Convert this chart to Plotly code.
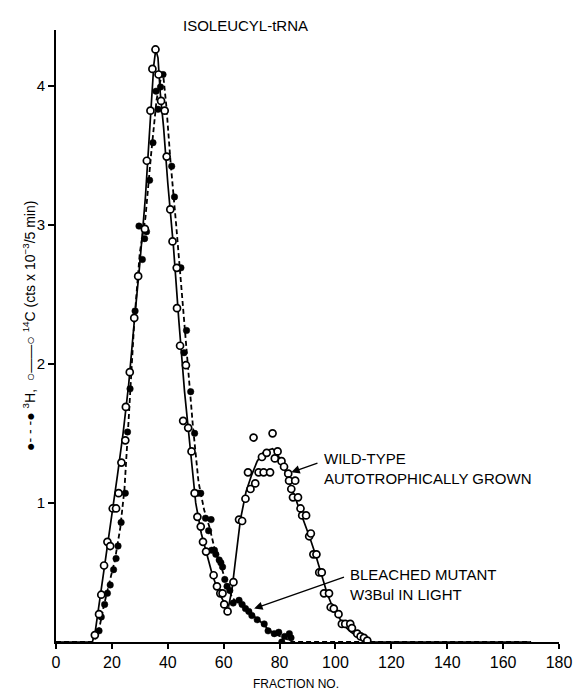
import plotly.graph_objects as go

# ---- 14C (open circles, wild-type autotrophically grown) ----
c14_x = [13.9, 15.4, 16.2, 17.2, 18.4, 19.4, 20.3, 21.5, 22.4, 23.4, 24.8, 25.0, 26.4, 28.0, 29.4,
         31.8, 32.5, 33.8, 34.5, 35.6, 36.7, 37.6, 38.9, 39.6, 40.9, 41.7, 43.2, 43.3, 44.4, 45.5,
         46.5, 47.3, 48.5, 49.6, 50.6, 51.8, 52.6, 53.7, 56.4, 57.6, 58.8, 59.6, 60.2, 61.4,
         63.5, 65.5, 66.6, 67.8, 68.7, 69.6, 70.7, 71.3, 72.5, 73.7, 74.3, 75.4, 76.6, 77.5, 78.3,
         79.3, 80.7, 81.6, 83.1, 83.4, 84.2, 84.8, 85.6, 86.6, 87.5, 88.1, 89.5, 90.6, 91.2, 92.1,
         93.2, 94.2, 95.1, 95.9, 97.7, 98.3, 99.4, 101.1, 102.3, 103.5, 105.3, 105.9, 107.8, 109.0,
         110.2, 111.4]
c14_y = [0.05, 0.20, 0.34, 0.55, 0.72, 0.69, 0.96, 0.96, 1.07, 1.29, 1.45, 1.69, 1.94, 2.33, 2.63,
         2.97, 3.46, 3.82, 4.12, 4.26, 4.08, 3.89, 3.82, 3.49, 3.11, 2.88, 2.69, 2.40, 2.13, 1.59,
         1.99, 1.54, 1.37, 1.07, 0.90, 0.83, 0.72, 0.65, 0.48, 0.40, 0.35, 0.35, 0.27, 0.22,
         0.43, 0.88, 0.87, 1.03, 1.22, 1.10, 1.47, 1.14, 1.22, 1.33, 1.22, 1.36, 1.22, 1.50, 1.32,
         1.37, 1.30, 1.26, 1.21, 1.16, 1.10, 1.04, 1.16, 1.04, 0.96, 0.91, 0.91, 0.76, 0.78, 0.63,
         0.63, 0.50, 0.50, 0.35, 0.35, 0.25, 0.24, 0.20, 0.13, 0.13, 0.13, 0.10, 0.06, 0.04,
         0.03, 0.01]

# hand-drawn solid curve through the 14C points
c14_curve_x = [0, 13, 14, 16, 18, 20, 22, 24, 26, 28, 30, 32, 33, 34, 35, 35.7, 36.5, 37.3, 38.5,
               40, 42, 44, 46, 48, 50, 52, 54, 56, 58, 60, 61.8, 63, 64, 66, 68, 70, 72, 74, 76,
               77.5, 79, 81, 83, 85, 87, 89, 91, 93, 95, 97, 99, 101, 103, 105, 107, 109, 111,
               112, 170]
c14_curve_y = [0, 0, 0.07, 0.35, 0.62, 0.9, 1.2, 1.5, 1.85, 2.3, 2.72, 3.2, 3.5, 3.85, 4.15, 4.26,
               4.2, 3.95, 3.7, 3.3, 2.85, 2.3, 1.8, 1.4, 1.0, 0.78, 0.62, 0.48, 0.37, 0.29, 0.26,
               0.38, 0.55, 0.88, 1.08, 1.2, 1.3, 1.36, 1.38, 1.39, 1.36, 1.28, 1.18, 1.07, 0.96,
               0.86, 0.74, 0.62, 0.48, 0.35, 0.25, 0.18, 0.12, 0.08, 0.05, 0.03, 0.01, 0, 0]

# ---- 3H (filled circles, bleached mutant W3BuI in light) ----
h3_x = [15.4, 16.2, 17.4, 18.4, 19.4, 20.6, 21.5, 22.2, 23.3, 24.8, 25.6, 26.5, 28.3, 29.7, 30.9,
        31.7, 32.4, 33.5, 34.7, 35.8, 36.5, 37.4, 38.3, 41.4, 42.4, 44.7, 45.8, 46.7, 48.2, 49.6,
        50.8, 51.8, 53.5, 54.6, 55.5, 55.7, 56.7, 57.2, 58.4, 59.0, 59.6, 60.4, 61.2, 62.2, 63.4,
        65.5, 66.6, 67.8, 69.0, 70.1, 72.0, 74.5, 75.9, 78.1, 79.7, 80.8, 81.8, 83.5, 84.1]
h3_y = [0.08, 0.18, 0.27, 0.35, 0.41, 0.52, 0.60, 0.69, 0.86, 1.07, 1.51, 1.82, 2.38, 2.99, 2.75,
        2.90, 2.95, 3.32, 3.59, 3.96, 3.83, 3.99, 4.08, 3.42, 3.20, 2.69, 2.08, 2.24, 1.80, 1.50,
        1.07, 1.07, 0.89, 0.80, 0.88, 0.66, 0.66, 0.63, 0.59, 0.57, 0.54, 0.45, 0.40, 0.37, 0.28,
        0.30, 0.27, 0.24, 0.22, 0.19, 0.16, 0.13, 0.08, 0.06, 0.07, 0.00, 0.04, 0.06, 0.03]

# hand-drawn dashed curve through the 3H points
h3_curve_x = [0, 13, 15, 17, 19, 21, 23, 24.5, 26, 28, 30, 32, 34, 36, 37.5, 38.5, 39.5, 41, 43,
              45, 47, 49, 51, 53, 55, 57, 59, 61, 63, 65, 67, 70, 73, 76, 79, 82, 84, 170]
h3_curve_y = [0, 0, 0.05, 0.25, 0.42, 0.58, 0.82, 1.1, 1.6, 2.3, 2.8, 3.05, 3.5, 3.9, 4.05, 4.05,
              3.85, 3.45, 3.0, 2.5, 2.0, 1.55, 1.15, 0.95, 0.82, 0.65, 0.55, 0.42, 0.32, 0.28,
              0.25, 0.2, 0.15, 0.09, 0.05, 0.03, 0, 0]

x_ticks = [0, 20, 40, 60, 80, 100, 120, 140, 160, 180]
y_ticks = [1, 2, 3, 4]

FONT = "Liberation Sans, Arial, Helvetica, sans-serif"

# page has an 8px body margin; plot area in page pixels: x 55.5..567.5, y 30..642
OFF = 8
PL, PR, PT, PB = 55.5, 567.5, 30.0, 642.0
W, H = 584 - OFF, 692 - OFF


def px(xp):
    return (xp - PL) / (PR - PL)


def py(yp):
    return (PB - yp) / (PB - PT)


fig = go.Figure()
fig.add_trace(go.Scatter(x=h3_curve_x, y=h3_curve_y, mode="lines",
                         line=dict(color="black", width=1.8, dash="5px,3px"), hoverinfo="skip"))
fig.add_trace(go.Scatter(x=c14_curve_x, y=c14_curve_y, mode="lines",
                         line=dict(color="black", width=1.7), hoverinfo="skip"))
fig.add_trace(go.Scatter(x=h3_x, y=h3_y, mode="markers",
                         marker=dict(symbol="circle", size=6.5, color="black",
                                     line=dict(color="black", width=0.5))))
fig.add_trace(go.Scatter(x=c14_x, y=c14_y, mode="markers",
                         marker=dict(symbol="circle", size=7, color="white",
                                     line=dict(color="black", width=1.7))))

ann = [
    dict(text="ISOLEUCYL-tRNA", xref="paper", yref="paper", x=px(248.5), y=py(25.5),
         xanchor="center", yanchor="middle", showarrow=False,
         font=dict(size=15, color="black", family=FONT)),
    dict(text="●- - -● <sup>3</sup>H,  ○——○ <sup>14</sup>C (cts x 10<sup>−3</sup>/5 min)",
         xref="paper", yref="paper", x=px(28), y=py(326),
         xanchor="center", yanchor="middle", textangle=-90, showarrow=False,
         font=dict(size=14, color="black", family=FONT)),
    dict(text="FRACTION NO.", xref="paper", yref="paper", x=px(300),
         y=py(684), xanchor="center", yanchor="middle", showarrow=False,
         font=dict(size=12, color="black", family=FONT)),
    dict(text="WILD-TYPE<br>AUTOTROPHICALLY GROWN", x=95.3, y=1.25, xanchor="left",
         yanchor="middle", align="left", showarrow=False,
         font=dict(size=15, color="black", family=FONT)),
    dict(text="BLEACHED MUTANT<br>W3Bul IN LIGHT", x=104.4, y=0.41, xanchor="left",
         yanchor="middle", align="left", showarrow=False,
         font=dict(size=15, color="black", family=FONT)),
    dict(text="", x=84.2, y=1.22, ax=94.1, ay=1.29, axref="x", ayref="y", showarrow=True,
         arrowhead=2, arrowsize=1.2, arrowwidth=1.4, arrowcolor="black"),
    dict(text="", x=70.9, y=0.24, ax=103.6, ay=0.47, axref="x", ayref="y", showarrow=True,
         arrowhead=2, arrowsize=1.2, arrowwidth=1.4, arrowcolor="black"),
]

fig.update_layout(
    width=W, height=H,
    margin=dict(l=PL - OFF, r=W - (PR - OFF), t=PT - OFF, b=H - (PB - OFF)),
    paper_bgcolor="white", plot_bgcolor="white",
    showlegend=False,
    annotations=ann,
    font=dict(family=FONT, color="black"),
    xaxis=dict(range=[0, 180], tickvals=x_ticks, ticktext=[str(v) for v in x_ticks],
               showgrid=False, zeroline=False, showline=True, linecolor="black", linewidth=2,
               ticks="outside", ticklen=5, tickwidth=1.5, tickcolor="black",
               tickfont=dict(size=16, color="black", family=FONT)),
    yaxis=dict(range=[0, 4.4], tickvals=y_ticks, ticktext=[str(v) for v in y_ticks],
               showgrid=False, zeroline=False, showline=True, linecolor="black", linewidth=2,
               ticks="outside", ticklen=6, tickwidth=1.5, tickcolor="black",
               tickfont=dict(size=15, color="black", family=FONT)),
)

fig.write_html("out.html")
